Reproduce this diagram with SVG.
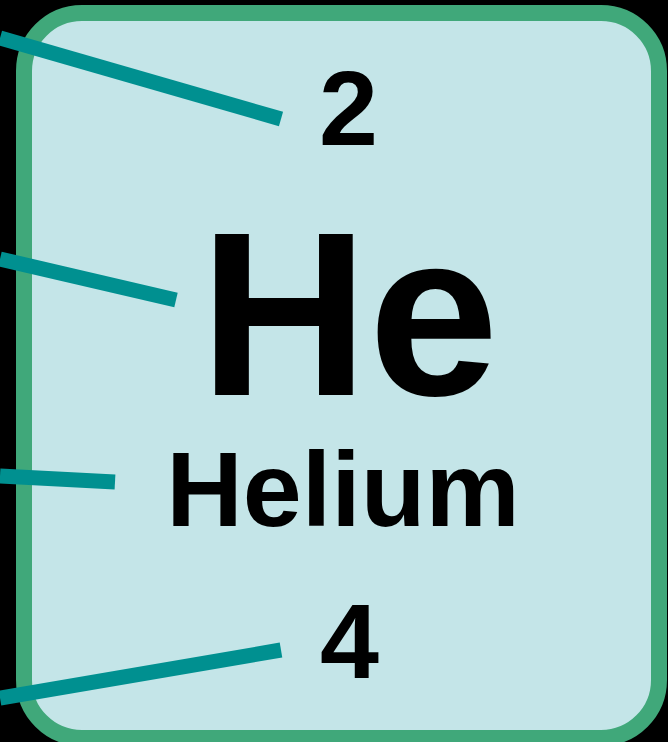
<svg xmlns="http://www.w3.org/2000/svg" width="668" height="742" viewBox="0 0 668 742">
<style>
.t{font-family:"Liberation Sans",Arial,sans-serif;font-weight:bold;fill:#000;text-anchor:middle}
.c{stroke:#009090;stroke-width:15;fill:none;stroke-linecap:butt}
</style>
<rect width="668" height="742" fill="#000"/>
<g id="tile">
<rect x="24" y="13" width="635" height="725" rx="58" ry="58" fill="#c4e5e8" stroke="#40a87a" stroke-width="16"/>
</g>
<g id="connectors">
<line class="c" x1="0" y1="38" x2="281" y2="119"/>
<line class="c" x1="0" y1="259" x2="176" y2="300"/>
<line class="c" x1="0" y1="476" x2="115" y2="482"/>
<line class="c" x1="0" y1="698" x2="281" y2="650"/>
</g>
<g id="atomic-number"><text class="t" x="348.5" y="145" font-size="106">2</text></g>
<g id="symbol"><text class="t" x="349" y="395" font-size="234">He</text></g>
<g id="name"><text class="t" x="343" y="526" font-size="106">Helium</text></g>
<g id="mass"><text class="t" x="349.5" y="678" font-size="106">4</text></g>
</svg>
